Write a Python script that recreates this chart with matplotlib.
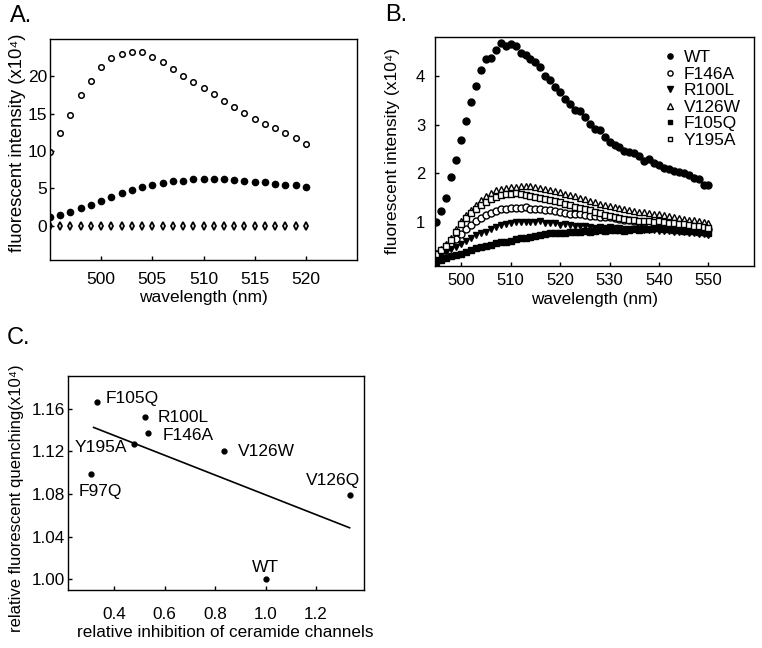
import matplotlib
matplotlib.use('Agg')
import matplotlib.pyplot as plt
import numpy as np

plt.rcParams['font.family'] = ['Liberation Sans', 'DejaVu Sans']
plt.rcParams['axes.linewidth'] = 1.0

# ---- panel A data ----
wl_a = np.arange(495, 521)
a_open = [9.9, 12.45, 14.8, 17.5, 19.4, 21.25, 22.5, 23.0, 23.3, 23.2, 22.6, 21.9, 21.0,
          20.1, 19.2, 18.4, 17.6, 16.7, 15.9, 15.1, 14.3, 13.6, 13.1, 12.4, 11.7, 11.0]
a_filled = [1.1, 1.4, 1.8, 2.3, 2.8, 3.3, 3.9, 4.4, 4.8, 5.2, 5.5, 5.7, 6.0,
            6.0, 6.2, 6.25, 6.25, 6.2, 6.1, 6.0, 5.9, 5.8, 5.6, 5.5, 5.4, 5.2]
a_diamond = [0.0] * 26

# ---- panel B data ----
wl_b = np.arange(495, 551)
b_wt = [1.01, 1.23, 1.50, 1.92, 2.28, 2.68, 3.08, 3.46, 3.80, 4.12, 4.34, 4.37, 4.53, 4.67,
        4.62, 4.66, 4.62, 4.47, 4.43, 4.35, 4.28, 4.19, 4.00, 3.91, 3.78, 3.67, 3.52, 3.43,
        3.31, 3.29, 3.16, 3.02, 2.91, 2.90, 2.74, 2.64, 2.59, 2.54, 2.47, 2.43, 2.41, 2.36,
        2.26, 2.29, 2.22, 2.18, 2.11, 2.09, 2.06, 2.03, 2.01, 1.96, 1.90, 1.89, 1.77, 1.77]
b_f146a = [0.33, 0.40, 0.46, 0.55, 0.65, 0.76, 0.86, 0.95, 1.03, 1.09, 1.14, 1.19, 1.23, 1.26,
           1.28, 1.29, 1.30, 1.29, 1.31, 1.28, 1.27, 1.27, 1.25, 1.24, 1.23, 1.20, 1.18, 1.17,
           1.16, 1.16, 1.15, 1.13, 1.12, 1.11, 1.11, 1.10, 1.08, 1.07, 1.05, 1.04, 1.03, 1.01,
           1.00, 0.99, 0.98, 0.97, 0.96, 0.95, 0.94, 0.93, 0.92, 0.91, 0.90, 0.88, 0.87, 0.85]
b_r100l = [0.28, 0.32, 0.38, 0.44, 0.50, 0.56, 0.62, 0.68, 0.73, 0.77, 0.80, 0.85, 0.90, 0.94,
           0.97, 0.99, 1.01, 1.00, 1.01, 1.00, 1.00, 1.02, 0.99, 0.98, 0.99, 0.95, 0.96, 0.94,
           0.93, 0.92, 0.93, 0.90, 0.89, 0.90, 0.88, 0.90, 0.88, 0.87, 0.86, 0.86, 0.86, 0.85,
           0.84, 0.83, 0.84, 0.82, 0.81, 0.81, 0.80, 0.79, 0.79, 0.78, 0.77, 0.76, 0.75, 0.73]
b_v126w = [0.37, 0.45, 0.55, 0.68, 0.85, 1.03, 1.15, 1.25, 1.36, 1.45, 1.53, 1.60, 1.65, 1.69,
           1.71, 1.72, 1.73, 1.74, 1.75, 1.74, 1.72, 1.70, 1.68, 1.66, 1.64, 1.62, 1.58, 1.56,
           1.53, 1.50, 1.47, 1.44, 1.41, 1.38, 1.36, 1.33, 1.31, 1.29, 1.27, 1.25, 1.22, 1.21,
           1.20, 1.18, 1.17, 1.16, 1.14, 1.12, 1.10, 1.09, 1.07, 1.05, 1.04, 1.02, 1.00, 0.98]
b_f105q = [0.18, 0.22, 0.26, 0.30, 0.33, 0.35, 0.38, 0.42, 0.46, 0.50, 0.52, 0.54, 0.58, 0.59,
           0.60, 0.62, 0.66, 0.68, 0.67, 0.70, 0.72, 0.73, 0.75, 0.77, 0.78, 0.78, 0.77, 0.79,
           0.80, 0.80, 0.81, 0.80, 0.82, 0.83, 0.82, 0.83, 0.84, 0.83, 0.82, 0.84, 0.85, 0.84,
           0.85, 0.86, 0.88, 0.87, 0.86, 0.85, 0.84, 0.83, 0.82, 0.82, 0.81, 0.80, 0.79, 0.78]
b_y195a = [0.35, 0.42, 0.52, 0.63, 0.80, 0.97, 1.08, 1.18, 1.28, 1.36, 1.42, 1.48, 1.52, 1.55,
           1.57, 1.58, 1.60, 1.57, 1.56, 1.54, 1.51, 1.50, 1.48, 1.46, 1.44, 1.42, 1.38, 1.35,
           1.32, 1.29, 1.27, 1.24, 1.21, 1.18, 1.15, 1.12, 1.10, 1.08, 1.07, 1.05, 1.04, 1.03,
           1.02, 1.03, 1.01, 1.02, 1.00, 0.99, 0.98, 0.97, 0.96, 0.95, 0.93, 0.92, 0.91, 0.89]

# ---- panel C data ----
mutants = ['F105Q', 'R100L', 'F146A', 'Y195A', 'V126W', 'F97Q', 'V126Q', 'WT']
inhibition = [0.331, 0.523, 0.536, 0.477, 0.836, 0.309, 1.333, 1.0]
quenching = [1.167, 1.152, 1.137, 1.127, 1.120, 1.099, 1.079, 1.000]
# label offsets in pixels (dx, dy, ha)
label_pos = {'F105Q': (9, 3, 'left'), 'R100L': (13, 0, 'left'), 'F146A': (14, -2, 'left'),
             'Y195A': (-6, -3, 'right'), 'V126W': (14, 0, 'left'), 'F97Q': (9, -18, 'center'),
             'V126Q': (-17, 15, 'center'), 'WT': (0, 12, 'center')}

W, H = 762, 648
fig = plt.figure(figsize=(W / 100, H / 100), dpi=100)


def px_axes(l, t, r, b):
    return fig.add_axes([l / W, 1 - b / H, (r - l) / W, (b - t) / H])


def style(ax, size):
    ax.tick_params(direction='in', length=3, width=1, labelsize=size)


# A
axA = px_axes(50, 39, 357, 260)
axA.plot(wl_a, a_open, 'o', mfc='white', mec='black', mew=1.1, ms=4)
axA.plot(wl_a, a_filled, 'o', color='black', ms=4.5)
axA.plot(wl_a, a_diamond, 'd', mfc='white', mec='black', mew=1.3, ms=4)
axA.set_xlim(495, 525)
axA.set_ylim(-4.6, 25)
axA.set_xticks([500, 505, 510, 515, 520])
axA.set_yticks([0, 5, 10, 15, 20])
style(axA, 12.5)
axA.tick_params(axis='x', pad=9)
axA.tick_params(axis='y', pad=2)
axA.set_xlabel('wavelength (nm)', fontsize=12.5)
axA.set_ylabel('fluorescent intensity (x10⁴)', fontsize=13.3)
axA.xaxis.label.set_va('center')
axA.yaxis.label.set_va('center')
axA.xaxis.set_label_coords(0.5, -0.17)
axA.yaxis.set_label_coords(-0.105, 0.53)

# B
axB = px_axes(435, 37, 754, 266)
axB.plot(wl_b, b_wt, 'o', color='black', ms=5, label='WT')
axB.plot(wl_b, b_f146a, 'o', mfc='white', mec='black', mew=1.0, ms=5, label='F146A')
axB.plot(wl_b, b_r100l, 'v', color='black', ms=5, label='R100L')
axB.plot(wl_b, b_v126w, '^', mfc='white', mec='black', mew=1.0, ms=5, label='V126W')
axB.plot(wl_b, b_f105q, 's', color='black', ms=4.3, label='F105Q')
axB.plot(wl_b, b_y195a, 's', mfc='white', mec='black', mew=1.0, ms=4.5, label='Y195A')
axB.set_xlim(494.7, 559.2)
axB.set_ylim(0.1, 4.8)
axB.set_xticks([500, 510, 520, 530, 540, 550])
axB.set_yticks([1, 2, 3, 4])
style(axB, 12)
axB.tick_params(axis='x', pad=5)
axB.tick_params(axis='y', pad=7)
axB.set_xlabel('wavelength (nm)', fontsize=12.3)
axB.set_ylabel('fluorescent intensity (x10⁴)', fontsize=12.5)
axB.xaxis.label.set_va('center')
axB.yaxis.label.set_va('center')
axB.xaxis.set_label_coords(0.5, -0.148)
axB.yaxis.set_label_coords(-0.133, 0.5)
axB.legend(loc='upper right', bbox_to_anchor=(1.0, 1.0), frameon=False, fontsize=12.5,
           markerscale=0.75, handlelength=0.6, handletextpad=0.5, labelspacing=0.08,
           borderaxespad=0.35)

# C
axC = px_axes(68, 376, 364, 590)
axC.plot(inhibition, quenching, 'o', color='black', ms=3.5)
slope, icpt = np.polyfit(inhibition, quenching, 1)
xfit = np.array([min(inhibition) + 0.01, max(inhibition)])
axC.plot(xfit, slope * xfit + icpt, color='black', lw=1.2)
for name, xv, yv in zip(mutants, inhibition, quenching):
    dx, dy, ha = label_pos[name]
    axC.annotate(name, (xv, yv), xytext=(dx, dy), textcoords='offset pixels',
                 ha=ha, va='center', fontsize=12.5)
axC.set_xlim(0.2175, 1.39)
axC.set_ylim(0.9897, 1.191)
axC.set_xticks([0.4, 0.6, 0.8, 1.0, 1.2])
axC.set_xticklabels(['0.4', '0.6', '0.8', '1.0', '1.2'])
axC.set_yticks([1.00, 1.04, 1.08, 1.12, 1.16])
axC.set_yticklabels(['1.00', '1.04', '1.08', '1.12', '1.16'])
style(axC, 12.3)
axC.tick_params(axis='x', pad=12)
axC.tick_params(axis='y', pad=2)
axC.set_xlabel('relative inhibition of ceramide channels', fontsize=12.3)
axC.set_ylabel('relative fluorescent quenching(x10⁴)', fontsize=12)
axC.xaxis.label.set_va('center')
axC.yaxis.label.set_va('center')
axC.xaxis.set_label_coords(0.53, -0.2)
axC.yaxis.set_label_coords(-0.175, 0.43)

fig.text(10 / W, 1 - 16 / H, 'A.', fontsize=17, va='center')
fig.text(385 / W, 1 - 15 / H, 'B.', fontsize=17, va='center')
fig.text(7 / W, 1 - 338 / H, 'C.', fontsize=17, va='center')

fig.savefig('out.png', dpi=100)
